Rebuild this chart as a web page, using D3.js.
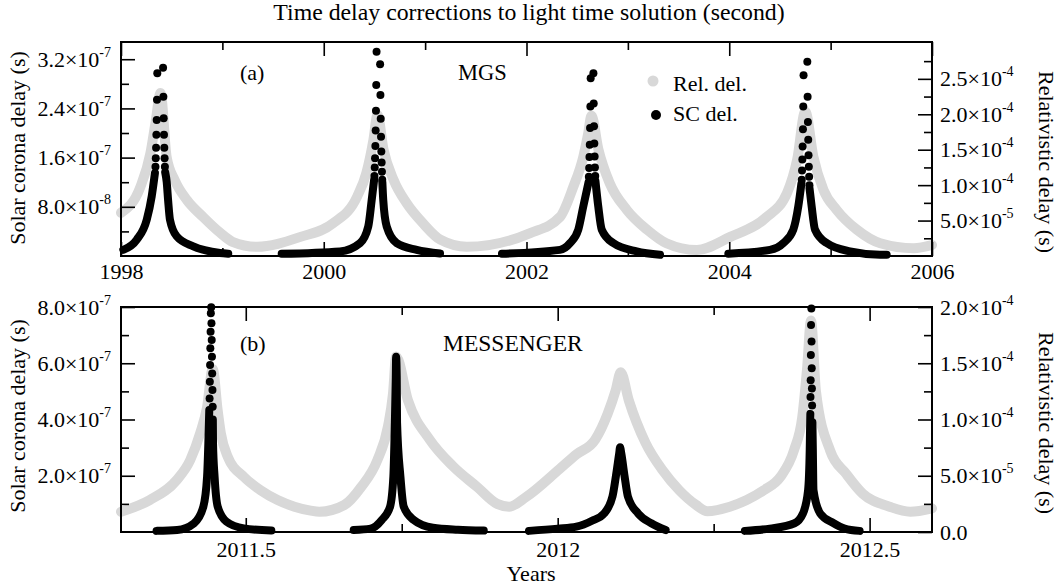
<!DOCTYPE html>
<html><head><meta charset="utf-8">
<script src="https://cdn.jsdelivr.net/npm/d3@7"></script>
<style>body{margin:0;background:#fff}svg{display:block}svg text{font-family:"Liberation Serif","Times New Roman",Times,serif}</style>
</head><body>
<svg id="c" width="1059" height="588"></svg>
<script>
// ---------------- DATA ----------------
const titleText = "Time delay corrections to light time solution (second)";
const leftTitle = "Solar corona delay (s)";
const rightTitle = "Relativistic delay (s)";
const xTitle = "Years";
const legendLabels = ["Rel. del.", "SC del."];

// Panel (a) MGS
const mgsXMajor = [1998, 2000, 2002, 2004, 2006];
const mgsXMinor = [1999, 2001, 2003, 2005];
const mgsLMajor = [8e-8, 1.6e-7, 2.4e-7, 3.2e-7];
const mgsLMinor = [4e-8, 1.2e-7, 2.0e-7, 2.8e-7];
const mgsRMajor = [5e-5, 1e-4, 1.5e-4, 2e-4, 2.5e-4];
const mgsRMinor = [2.5e-5, 7.5e-5, 1.25e-4, 1.75e-4, 2.25e-4, 2.75e-4];

const mgsRel = [
 [1998.00,6.1e-5],[1998.19,9.7e-5],[1998.29,14.5e-5],[1998.34,18.8e-5],[1998.39,23.0e-5],
 [1998.45,14.0e-5],[1998.53,10.7e-5],[1998.65,7.9e-5],[1998.81,5.5e-5],[1998.98,3.25e-5],
 [1999.10,2.0e-5],[1999.34,1.3e-5],[1999.77,2.7e-5],[2000.09,4.6e-5],[2000.33,8.4e-5],
 [2000.42,11.7e-5],[2000.49,16.4e-5],[2000.53,19.9e-5],[2000.59,15.0e-5],[2000.69,10.7e-5],
 [2000.82,7.4e-5],[2000.98,4.6e-5],[2001.15,2.3e-5],[2001.41,1.3e-5],[2002.03,3.2e-5],
 [2002.33,5.5e-5],[2002.46,9.7e-5],[2002.56,14.0e-5],[2002.61,17.4e-5],[2002.64,19.8e-5],
 [2002.71,15.0e-5],[2002.82,10.3e-5],[2002.99,6.5e-5],[2003.19,3.7e-5],[2003.38,1.8e-5],
 [2003.68,0.85e-5],[2004.01,2.7e-5],[2004.36,5.4e-5],[2004.57,8.9e-5],[2004.67,13.6e-5],
 [2004.75,20.4e-5],[2004.83,14.0e-5],[2004.93,9.3e-5],[2005.06,6.5e-5],[2005.26,3.7e-5],
 [2005.49,1.8e-5],[2005.82,1.1e-5],[2006.00,1.55e-5]
];

// continuous approach / departure branches of the solar-corona delay
const mgsScBranches = [
 [[1998.023,1.0e-8],[1998.155,2.65e-8],[1998.254,5.9e-8],[1998.303,9.7e-8],[1998.335,13.5e-8]],
 [[1998.436,13.6e-8],[1998.451,12.0e-8],[1998.465,9.0e-8],[1998.483,5.9e-8],[1998.549,3.2e-8],[1998.713,1.56e-8],[1998.977,0.49e-8],[1999.058,0.37e-8]],
 [[1999.585,0.37e-8],[2000.160,0.75e-8],[2000.358,2.1e-8],[2000.439,4.8e-8],[2000.473,9.1e-8],[2000.497,12.4e-8]],
 [[2000.578,12.0e-8],[2000.587,9.1e-8],[2000.621,4.8e-8],[2000.720,2.1e-8],[2000.917,1.0e-8],[2001.147,0.4e-8]],
 [[2001.758,0.37e-8],[2002.330,1.0e-8],[2002.429,2.1e-8],[2002.511,4.3e-8],[2002.560,8.05e-8],[2002.612,12.0e-8]],
 [[2002.680,12.2e-8],[2002.708,8.05e-8],[2002.742,4.3e-8],[2002.856,2.1e-8],[2003.087,0.75e-8],[2003.317,0.2e-8]],
 [[2003.991,0.37e-8],[2004.402,1.0e-8],[2004.533,2.1e-8],[2004.632,4.3e-8],[2004.681,8.05e-8],[2004.712,11.8e-8]],
 [[2004.792,11.0e-8],[2004.813,8.05e-8],[2004.846,4.3e-8],[2004.961,2.1e-8],[2005.191,0.75e-8],[2005.487,0.21e-8],[2005.553,0.21e-8]]
];
// separated samples near the conjunctions
const mgsScDots = [
 [1998.340,14.5e-8],[1998.343,15.9e-8],[1998.346,17.6e-8],[1998.349,19.7e-8],[1998.352,22.1e-8],[1998.355,25.4e-8],[1998.358,29.7e-8],
 [1998.415,30.6e-8],[1998.418,25.9e-8],[1998.421,22.4e-8],[1998.424,19.7e-8],[1998.427,17.6e-8],[1998.430,15.9e-8],[1998.433,14.5e-8],
 [2000.500,13.0e-8],[2000.503,14.4e-8],[2000.506,15.9e-8],[2000.509,17.9e-8],[2000.512,20.4e-8],[2000.515,23.6e-8],[2000.518,27.8e-8],[2000.521,33.2e-8],
 [2000.556,31.2e-8],[2000.559,26.2e-8],[2000.562,22.3e-8],[2000.565,19.4e-8],[2000.568,17.0e-8],[2000.571,15.2e-8],[2000.574,13.7e-8],[2000.577,12.4e-8],
 [2002.615,12.9e-8],[2002.618,14.3e-8],[2002.621,16.1e-8],[2002.624,18.1e-8],[2002.627,20.8e-8],[2002.630,24.3e-8],[2002.633,28.9e-8],
 [2002.660,29.7e-8],[2002.663,24.8e-8],[2002.666,21.1e-8],[2002.669,18.3e-8],[2002.672,16.2e-8],[2002.675,14.4e-8],[2002.678,13.0e-8],
 [2004.715,12.4e-8],[2004.718,13.9e-8],[2004.721,15.7e-8],[2004.724,17.8e-8],[2004.727,20.6e-8],[2004.730,24.3e-8],[2004.733,29.4e-8],
 [2004.770,31.6e-8],[2004.773,25.9e-8],[2004.776,21.8e-8],[2004.779,18.9e-8],[2004.782,16.4e-8],[2004.785,14.5e-8],[2004.788,12.9e-8],[2004.791,11.5e-8]
];

// Panel (b) MESSENGER
const messXMajor = [2011.5, 2012, 2012.5];
const messXMinor = [2011.75, 2012.25];
const messLMajor = [2e-7, 4e-7, 6e-7, 8e-7];
const messLMinor = [1e-7, 3e-7, 5e-7, 7e-7];
const messRMajor = [0, 5e-5, 1e-4, 1.5e-4, 2e-4];
const messRMinor = [2.5e-5, 7.5e-5, 1.25e-4, 1.75e-4];

const messRel = [
 [2011.300,1.8e-5],[2011.346,2.84e-5],[2011.389,4.6e-5],[2011.411,6.4e-5],[2011.427,8.8e-5],
 [2011.438,11.1e-5],[2011.447,14.5e-5],[2011.455,10.8e-5],[2011.460,8.8e-5],[2011.471,6.7e-5],
 [2011.497,4.9e-5],[2011.524,3.7e-5],[2011.551,2.84e-5],[2011.578,2.25e-5],[2011.604,1.9e-5],
 [2011.618,1.8e-5],[2011.658,2.4e-5],[2011.685,4.0e-5],[2011.711,6.4e-5],[2011.728,9.4e-5],
 [2011.736,12.3e-5],[2011.741,15.6e-5],[2011.760,11.7e-5],[2011.795,8.2e-5],[2011.833,5.8e-5],
 [2011.871,4.0e-5],[2011.903,2.5e-5],[2011.922,2.25e-5],[2011.949,3.1e-5],[2012.003,5.6e-5],
 [2012.030,6.9e-5],[2012.060,8.2e-5],[2012.080,10.5e-5],[2012.093,12.6e-5],[2012.101,14.2e-5],
 [2012.114,11.7e-5],[2012.141,7.9e-5],[2012.168,5.5e-5],[2012.195,3.7e-5],[2012.222,2.4e-5],
 [2012.240,1.85e-5],[2012.276,2.25e-5],[2012.303,2.84e-5],[2012.330,3.7e-5],[2012.357,4.9e-5],
 [2012.379,7.3e-5],[2012.392,10.2e-5],[2012.400,14.7e-5],[2012.406,18.8e-5],[2012.414,12.5e-5],
 [2012.437,7.2e-5],[2012.462,5.2e-5],[2012.489,3.4e-5],[2012.532,2.25e-5],[2012.565,1.8e-5],
 [2012.600,2.1e-5]
];

const messScBranches = [
 [[2011.357,0.04e-7],[2011.390,0.07e-7],[2011.417,0.31e-7],[2011.432,0.9e-7],[2011.438,1.97e-7],[2011.440,3.15e-7],[2011.4415,4.34e-7]],
 [[2011.4472,4.0e-7],[2011.4475,3.15e-7],[2011.450,1.97e-7],[2011.455,0.9e-7],[2011.469,0.37e-7],[2011.497,0.13e-7],[2011.541,0.05e-7]],
 [[2011.673,0.07e-7],[2011.700,0.12e-7],[2011.718,0.43e-7],[2011.7313,0.9e-7],[2011.7366,1.97e-7],[2011.739,3.9e-7],[2011.7405,5.5e-7],
  [2011.741,6.23e-7],[2011.742,5.5e-7],[2011.7425,3.9e-7],[2011.7479,1.97e-7],[2011.7532,0.9e-7],[2011.769,0.43e-7],[2011.800,0.15e-7],
  [2011.840,0.08e-7],[2011.8815,0.05e-7]],
 [[2011.954,0.04e-7],[2012.000,0.12e-7],[2012.030,0.19e-7],[2012.055,0.4e-7],[2012.0743,0.66e-7],[2012.0878,1.26e-7],[2012.0932,1.97e-7],
  [2012.0986,2.8e-7],[2012.100,3.01e-7],[2012.1019,2.8e-7],[2012.1073,1.97e-7],[2012.1126,1.26e-7],[2012.1289,0.66e-7],[2012.150,0.31e-7],
  [2012.173,0.07e-7]],
 [[2012.300,0.04e-7],[2012.340,0.12e-7],[2012.3797,0.31e-7],[2012.3932,0.66e-7],[2012.4014,1.49e-7],[2012.404,2.92e-7],[2012.4045,3.6e-7],[2012.405,4.2e-7]],
 [[2012.4083,3.9e-7],[2012.409,2.92e-7],[2012.410,1.49e-7],[2012.4208,0.66e-7],[2012.4424,0.31e-7],[2012.460,0.12e-7],[2012.484,0.04e-7]]
];
const messScDots = [
 [2011.442,4.75e-7],[2011.4424,5.34e-7],[2011.4428,5.94e-7],[2011.4432,6.53e-7],[2011.4436,7.12e-7],[2011.444,7.78e-7],
 [2011.4446,7.99e-7],[2011.445,7.42e-7],[2011.4454,6.83e-7],[2011.4458,6.23e-7],[2011.4462,5.64e-7],[2011.4466,5.05e-7],[2011.447,4.45e-7],
 [2012.4052,4.8e-7],[2012.4055,5.4e-7],[2012.4058,6.29e-7],[2012.4061,7.36e-7],
 [2012.4066,7.95e-7],[2012.4069,6.77e-7],[2012.4072,5.82e-7],[2012.4075,5.1e-7],[2012.4078,4.5e-7]
];

// ---------------- DRAW ----------------
const svg = d3.select('#c');
const FONT = '"Liberation Serif","Times New Roman",Times,serif';
const FS = 22;
const GRAY = '#d8d8d8';
svg.append('rect').attr('width',1059).attr('height',588).attr('fill','#fff');

function sciParts(v){
  if (v === 0) return ['0.0', null];
  const e = Math.floor(Math.log10(v) + 1e-9);
  const m = v / Math.pow(10, e);
  return [m.toFixed(1) + '\u00d710', String(e)];
}
function styleLabels(g, fmt){
  g.selectAll('.tick text').each(function(d){
    const t = d3.select(this);
    const p = fmt(d);
    t.text(null);
    t.append('tspan').text(p[0]);
    if (p[1] !== null) t.append('tspan').style('font-size','14px').attr('dy', -10).text(p[1]);
  });
}

function panel(c){
  const x = d3.scaleLinear().domain(c.xDomain).range([c.x0, c.x1]);
  const yL = d3.scaleLinear().domain(c.yLDomain).range([c.y1, c.y0]);
  const yR = d3.scaleLinear().domain(c.yRDomain).range([c.y1, c.y0]);
  const g = svg.append('g');

  // relativistic delay (grey)
  const lineR = d3.line().x(d => x(d[0])).y(d => yR(d[1])).curve(d3.curveMonotoneX);
  g.append('path').datum(c.rel).attr('d', lineR)
    .attr('fill','none').attr('stroke',GRAY).attr('stroke-width',10)
    .attr('stroke-linecap','round').attr('stroke-linejoin','round');

  // solar-corona delay (black)
  const lineS = d3.line().x(d => x(d[0])).y(d => yL(d[1])).curve(d3.curveMonotoneX);
  g.selectAll('path.sc').data(c.sc).enter().append('path').attr('class','sc')
    .attr('d', lineS).attr('fill','none').attr('stroke','#000').attr('stroke-width',8)
    .attr('stroke-linecap','round').attr('stroke-linejoin','round');
  g.selectAll('circle.scd').data(c.dots).enter().append('circle').attr('class','scd')
    .attr('cx', d => x(d[0])).attr('cy', d => yL(d[1])).attr('r', 4).attr('fill','#000');

  // axes (ticks inward)
  const tickW = 1.6;
  function finish(ax){
    ax.attr('font-family', null).attr('font-size', null);
    ax.select('.domain').remove();
    ax.selectAll('line').attr('stroke-width',tickW).attr('stroke','#000');
    ax.selectAll('text').style('font-family',FONT).style('font-size',FS+'px').attr('fill','#000');
  }

  let a;
  a = g.append('g').attr('transform',`translate(0,${c.y1})`)
    .call(d3.axisBottom(x).tickValues(c.xMajor).tickSize(-14).tickSizeOuter(0).tickPadding(c.xPad).tickFormat(d3.format('')));
  finish(a);
  a = g.append('g').attr('transform',`translate(0,${c.y1})`)
    .call(d3.axisBottom(x).tickValues(c.xMinor).tickSize(-8).tickSizeOuter(0).tickFormat(''));
  finish(a);
  a = g.append('g').attr('transform',`translate(0,${c.y0})`)
    .call(d3.axisTop(x).tickValues(c.xMajor).tickSize(-14).tickSizeOuter(0).tickFormat(''));
  finish(a);
  a = g.append('g').attr('transform',`translate(0,${c.y0})`)
    .call(d3.axisTop(x).tickValues(c.xMinor).tickSize(-8).tickSizeOuter(0).tickFormat(''));
  finish(a);

  a = g.append('g').attr('transform',`translate(${c.x0},0)`)
    .call(d3.axisLeft(yL).tickValues(c.lMajor).tickSize(-14).tickSizeOuter(0).tickPadding(10));
  finish(a); styleLabels(a, sciParts);
  a = g.append('g').attr('transform',`translate(${c.x0},0)`)
    .call(d3.axisLeft(yL).tickValues(c.lMinor).tickSize(-8).tickSizeOuter(0).tickFormat(''));
  finish(a);
  a = g.append('g').attr('transform',`translate(${c.x1},0)`)
    .call(d3.axisRight(yR).tickValues(c.rMajor).tickSize(-14).tickSizeOuter(0).tickPadding(8));
  finish(a); styleLabels(a, sciParts);
  a = g.append('g').attr('transform',`translate(${c.x1},0)`)
    .call(d3.axisRight(yR).tickValues(c.rMinor).tickSize(-8).tickSizeOuter(0).tickFormat(''));
  finish(a);

  // frame
  g.append('rect').attr('x',c.x0).attr('y',c.y0).attr('width',c.x1-c.x0).attr('height',c.y1-c.y0)
    .attr('fill','none').attr('stroke','#000').attr('stroke-width',2);

  // axis titles
  g.append('text').attr('transform',`translate(17,${c.lTitleY}) rotate(-90)`).attr('text-anchor','middle')
    .attr('dominant-baseline','central').style('font-family',FONT).style('font-size',FS+'px').text(leftTitle);
  g.append('text').attr('transform',`translate(1046,${c.rTitleY}) rotate(90)`).attr('text-anchor','middle')
    .attr('dominant-baseline','central').style('font-family',FONT).style('font-size',FS+'px').text(rightTitle);

  // annotations
  g.append('text').attr('x',240).attr('y',c.annY).style('font-family',FONT).style('font-size',FS+'px').text(c.tag);
  g.append('text').attr('x',c.nameX).attr('y',c.annY).style('font-family',FONT).style('font-size',c.nameFS+'px').text(c.name);
}

panel({x0:121, x1:932, y0:42, y1:256, xDomain:[1998,2006], yLDomain:[0,3.48e-7], yRDomain:[0,3.02e-4],
  xMajor:mgsXMajor, xMinor:mgsXMinor, lMajor:mgsLMajor, lMinor:mgsLMinor, rMajor:mgsRMajor, rMinor:mgsRMinor,
  rel:mgsRel, sc:mgsScBranches, dots:mgsScDots, xPad:7, lTitleY:148, rTitleY:162, annY:80, tag:'(a)', name:'MGS', nameX:458, nameFS:22.5});

panel({x0:121, x1:932, y0:307, y1:532, xDomain:[2011.3,2012.6], yLDomain:[0,8e-7], yRDomain:[0,2e-4],
  xMajor:messXMajor, xMinor:messXMinor, lMajor:messLMajor, lMinor:messLMinor, rMajor:messRMajor, rMinor:messRMinor,
  rel:messRel, sc:messScBranches, dots:messScDots, xPad:9, lTitleY:416, rTitleY:423, annY:351, tag:'(b)', name:'MESSENGER', nameX:443, nameFS:23.5});

// title & x title
svg.append('text').attr('x',529).attr('y',20).attr('text-anchor','middle').style('font-family',FONT)
  .style('font-size','23.8px').text(titleText);
svg.append('text').attr('x',531).attr('y',581).attr('text-anchor','middle').style('font-family',FONT)
  .style('font-size',FS+'px').text(xTitle);

// legend
const leg = svg.append('g');
leg.append('circle').attr('cx',653).attr('cy',81).attr('r',5.5).attr('fill',GRAY);
leg.append('circle').attr('cx',656).attr('cy',115).attr('r',5).attr('fill','#000');
leg.append('text').attr('x',673).attr('y',91).style('font-family',FONT).style('font-size',FS+'px').text(legendLabels[0]);
leg.append('text').attr('x',673).attr('y',120.5).style('font-family',FONT).style('font-size',FS+'px').text(legendLabels[1]);
</script>
</body></html>
